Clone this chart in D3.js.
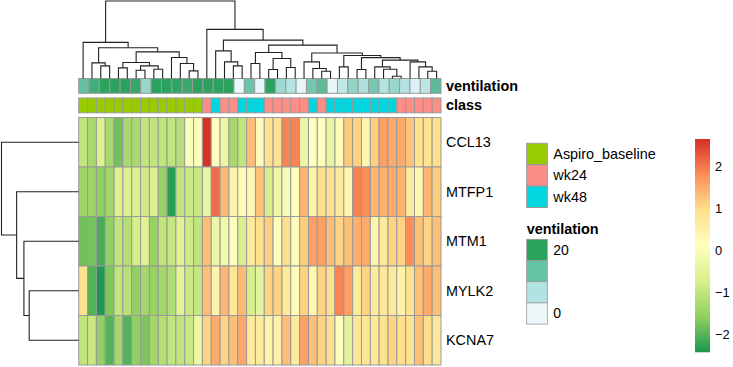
<!DOCTYPE html>
<html>
<head>
<meta charset="utf-8">
<script src="https://cdn.jsdelivr.net/npm/d3@7"></script>
<style>
  body { margin: 0; background: #fff; }
  text { font-family: "Liberation Sans", Arial, Helvetica, sans-serif; fill: #000; }
</style>
</head>
<body>
<div id="chart"></div>
<script>
// genes (rows, in dendrogram order)
const genes = ['CCL13', 'MTFP1', 'MTM1', 'MYLK2', 'KCNA7'];

// scaled expression, one value per sample (41 columns, dendrogram order)
const ccl13 = [-1.0, -1.3, -0.65, -1.3, -1.8, -1.3, -1.3, -1.0, -1.0, -1.0, -1.0, -1.15, 0.05, 0.05, 2.65, 0.15, -0.3, -1.3, -1.0, 1.3,
  0.2, 0.9, 0.85, 1.9, 1.9, -0.3, 0.1, 0.15, -0.4, 0.2, 1.2, 1.1, 0.4, 1.15, 1.6, 1.5, 1.5, 1.25, 0.9, 0.9, 0.95];
const mtfp1 = [-1.4, -1.4, -1.55, -1.35, -0.65, -0.65, -0.65, -0.85, -0.65, -1.5, -2.3, -1.0, -0.9, -0.9, -0.35, 2.1, 1.35, 0.45, 0.2, 0.3,
  1.25, -0.75, -0.3, -0.1, 0.15, 1.4, 0.45, 0.95, 0.9, 0.7, 0.35, 1.9, 1.8, 1.4, 1.45, 1.5, 1.4, 0.7, 0.35, 1.4, 1.15];
const mtm1 = [-1.8, -1.75, -2.1, -1.55, -1.0, -1.15, -0.75, -0.6, -1.5, -1.0, -0.95, -0.55, -0.85, -1.0, 1.3, -0.3, -0.2, 0.15, -0.7, 0.7,
  0.95, 1.15, 0.1, 0.95, 0.2, 1.15, 1.6, 1.6, 1.3, 1.1, 1.3, 1.45, 1.5, 0.45, 0.7, 1.1, 1.1, 1.8, 1.3, 1.1, 1.3];
const mylk2 = [0.9, -2.0, -2.4, -1.7, -1.0, -1.1, -1.55, -1.35, -1.5, -1.35, -1.2, -0.5, -0.9, -0.95, 1.3, 0.45, 1.4, 0.8, 1.35, -0.7,
  -0.45, 1.1, 1.1, 0.7, 0.2, 1.1, 0.35, 1.1, 0.95, 1.9, 1.6, 0.7, 1.1, 0.7, 0.75, 0.7, 0.45, 0.9, 1.3, 1.5, 1.3];
const kcna7 = [-1.0, -0.9, -1.55, -2.0, -1.35, -2.0, -1.55, -1.7, -1.35, -1.15, -1.0, -1.0, -0.9, -0.3, 1.1, 1.5, 1.1, 1.3, 1.55, 0.7,
  0.7, 0.45, 0.5, 1.3, 0.7, 1.6, 1.3, 1.1, 0.95, 0.15, -0.45, 0.75, 0.75, 0.75, 0.9, 1.1, 0.95, 0.9, 1.3, 0.95, 0.75];
const expression = [ccl13, mtfp1, mtm1, mylk2, kcna7];

// class annotation per column
const B = 'Aspiro_baseline', W24 = 'wk24', W48 = 'wk48';
const sampleClass = [B, B, B, B, B, B, B, B, B, B, B, B, B, B, W24, W48, W24, W24, W48, W48,
  W48, W24, W24, W24, W24, W24, W48, W24, W48, W48, W48, W48, W48, W48, W48, W48, W24, W24, W24, W24, W24];

// ventilation annotation track (as drawn)
const ventilation = [13.5, 17.5, 20, 20, 20, 19, 9, 20, 20, 19.5, 18.5, 20, 20, 20, 20, 0, 13, 0.5, 20, 8.5,
  6.5, 0.5, 12, 14.5, 0.5, 5, 9.5, 7, 12, 6.7, 9, 6.7, 2, 5.5, 14.5];

const classNames = [B, W24, W48];
const classColors = ['#99cc00', '#fd8e87', '#00d6e0'];
const ventColors = ['#edf8fb', '#b2e2e2', '#66c2a4', '#2ca25f'];
const ventDomain = [0, 6.67, 13.33, 20];
const ventTicks = ['20', '0'];
const palette = ['#1a9850', '#91cf60', '#d9ef8b', '#ffffbf', '#fee08b', '#fc8d59', '#d73027'];
const colorRange = [-2.41, 2.65];
const colorTicks = [2, 1, 0, -1, -2];

// dendrograms: [height, left, right], leaves are column / row indices
const colTree = [77.3,
  [36, 0, [30.6, [15.6, 1, [12.6, 2, 3]],
    [26.6, [16, [10.6, 4, 5], [12.6, [8.3, 6, 7], [9.3, 8, 9]]], [21, 10, [15, 11, [7.6, 12, 13]]]]]],
  [49, 14, [38.3,
    [27.6, 15, [16.6, 16, [12.6, 17, 18]]],
    [33.3,
      [26, [15, 19, 20], [20, [9, 21, 22], [11, 23, 24]]],
      [25.5,
        [16.6, 25, [10, 26, [7.3, 27, 28]]],
        [23, [11.6, 29, 30], [20.8, [9, 31, 32],
          [18.3, [11.6, 33, [9.3, 34, [2.3, 35, 36]]], [16.6, 37, [11.6, 38, [7.3, 39, 40]]]]]]]]]]
];
const rowTree = [77.5, 0, [62.3, 1, [55, 2, [49.7, 3, 4]]]];

// layout
const width = 733, height = 367;
const heat = { left: 78.7, right: 441, top: 117.5, bottom: 365 };
const ventBand = { top: 78.5, bottom: 93.3 };
const classBand = { top: 98, bottom: 112.8 };
const border = '#999999';
const labelSize = '14.4px';

const svg = d3.select('#chart')
  .append('svg')
  .attr('width', width)
  .attr('height', height);

svg.append('rect').attr('width', width).attr('height', height).attr('fill', '#fff');

const xScale = d3.scaleBand().domain(d3.range(ccl13.length)).range([heat.left, heat.right]);
const yScale = d3.scaleBand().domain(genes).range([heat.top, heat.bottom]);
const xVent = d3.scaleBand().domain(d3.range(ventilation.length)).range([heat.left, heat.right]);

const color = d3.scaleLinear()
  .domain(palette.map((c, i) => colorRange[0] + i * (colorRange[1] - colorRange[0]) / (palette.length - 1)))
  .range(palette);
const ventColor = d3.scaleLinear().domain(ventDomain).range(ventColors);
const classColor = d3.scaleOrdinal().domain(classNames).range(classColors);

// heatmap cells
const cells = genes.flatMap((g, r) => expression[r].map((v, i) => ({ g, i, v })));
svg.append('g')
  .selectAll('rect')
  .data(cells)
  .join('rect')
  .attr('x', d => xScale(d.i))
  .attr('y', d => yScale(d.g))
  .attr('width', xScale.bandwidth())
  .attr('height', yScale.bandwidth())
  .attr('fill', d => color(d.v))
  .attr('stroke', border)
  .attr('stroke-width', 1);

// annotation tracks
svg.append('g')
  .selectAll('rect')
  .data(ventilation)
  .join('rect')
  .attr('x', (d, i) => xVent(i))
  .attr('y', ventBand.top)
  .attr('width', xVent.bandwidth())
  .attr('height', ventBand.bottom - ventBand.top)
  .attr('fill', d => ventColor(d))
  .attr('stroke', border);

svg.append('g')
  .selectAll('rect')
  .data(sampleClass)
  .join('rect')
  .attr('x', (d, i) => xScale(i))
  .attr('y', classBand.top)
  .attr('width', xScale.bandwidth())
  .attr('height', classBand.bottom - classBand.top)
  .attr('fill', d => classColor(d))
  .attr('stroke', border);

svg.append('text')
  .attr('x', heat.right + 5)
  .attr('y', (ventBand.top + ventBand.bottom) / 2)
  .attr('dy', '0.35em')
  .style('font-size', labelSize)
  .style('font-weight', 'bold')
  .text('ventilation');

svg.append('text')
  .attr('x', heat.right + 5)
  .attr('y', (classBand.top + classBand.bottom) / 2)
  .attr('dy', '0.35em')
  .style('font-size', labelSize)
  .style('font-weight', 'bold')
  .text('class');

// row labels
svg.append('g')
  .selectAll('text')
  .data(genes)
  .join('text')
  .attr('x', heat.right + 5)
  .attr('y', d => yScale(d) + yScale.bandwidth() / 2)
  .attr('dy', '0.35em')
  .style('font-size', labelSize)
  .text(d => d);

// dendrograms
function dendroPaths(tree, leafPos, hScale, vertical) {
  const segs = [];
  (function walk(n) {
    if (typeof n === 'number') return { p: leafPos(n), h: 0 };
    const a = walk(n[1]), b = walk(n[2]);
    segs.push([[a.p, a.h], [a.p, n[0]], [b.p, n[0]], [b.p, b.h]]);
    return { p: (a.p + b.p) / 2, h: n[0] };
  })(tree);
  const line = d3.line()
    .x(d => vertical ? d[0] : hScale(d[1]))
    .y(d => vertical ? hScale(d[1]) : d[0]);
  return segs.map(line);
}

const colH = d3.scaleLinear().domain([0, colTree[0]]).range([ventBand.top, 1]);
svg.append('g')
  .selectAll('path')
  .data(dendroPaths(colTree, i => xScale(i) + xScale.bandwidth() / 2, colH, true))
  .join('path')
  .attr('d', d => d)
  .attr('fill', 'none')
  .attr('stroke', '#222')
  .attr('stroke-width', 1.1);

const rowH = d3.scaleLinear().domain([0, rowTree[0]]).range([heat.left, 1.5]);
svg.append('g')
  .selectAll('path')
  .data(dendroPaths(rowTree, i => yScale(genes[i]) + yScale.bandwidth() / 2, rowH, false))
  .join('path')
  .attr('d', d => d)
  .attr('fill', 'none')
  .attr('stroke', '#222')
  .attr('stroke-width', 1.1);

// class legend
const legX = 526.7, boxW = 20.6, boxH = 21.4;
const classLeg = svg.append('g').attr('transform', `translate(${legX},143.3)`);
classLeg.selectAll('rect')
  .data(classNames)
  .join('rect')
  .attr('y', (d, i) => i * boxH)
  .attr('width', boxW)
  .attr('height', boxH)
  .attr('fill', d => classColor(d))
  .attr('stroke', border);
classLeg.selectAll('text')
  .data(classNames)
  .join('text')
  .attr('x', boxW + 6)
  .attr('y', (d, i) => i * boxH + boxH / 2)
  .attr('dy', '0.35em')
  .style('font-size', labelSize)
  .text(d => d);

// ventilation legend
svg.append('text')
  .attr('x', legX)
  .attr('y', 233.5)
  .style('font-size', labelSize)
  .style('font-weight', 'bold')
  .text('ventilation');

const ventLeg = svg.append('g').attr('transform', `translate(${legX},239.3)`);
const ventLegColors = ventColors.slice().reverse();
ventLeg.selectAll('rect')
  .data(ventLegColors)
  .join('rect')
  .attr('y', (d, i) => i * 21.2)
  .attr('width', boxW)
  .attr('height', 21.2)
  .attr('fill', d => d)
  .attr('stroke', border)
  .attr('stroke-width', 0.8);
ventLeg.selectAll('text')
  .data(ventTicks)
  .join('text')
  .attr('x', boxW + 6)
  .attr('y', (d, i) => i === 0 ? 10.6 : 3 * 21.2 + 10.6)
  .attr('dy', '0.35em')
  .style('font-size', '14px')
  .text(d => d);

// colour bar
const bar = { x: 695, w: 15, top: 139, bottom: 352.3 };
const barY = d3.scaleLinear().domain(colorRange).range([bar.bottom, bar.top]);
const grad = svg.append('defs').append('linearGradient')
  .attr('id', 'cbar')
  .attr('x1', 0).attr('x2', 0).attr('y1', 1).attr('y2', 0);
grad.selectAll('stop')
  .data(palette)
  .join('stop')
  .attr('offset', (d, i) => i / (palette.length - 1))
  .attr('stop-color', d => d);
svg.append('rect')
  .attr('x', bar.x)
  .attr('y', bar.top)
  .attr('width', bar.w)
  .attr('height', bar.bottom - bar.top)
  .attr('fill', 'url(#cbar)');
svg.append('g')
  .selectAll('text')
  .data(colorTicks)
  .join('text')
  .attr('x', bar.x + bar.w + 5)
  .attr('y', d => barY(d))
  .attr('dy', '0.35em')
  .style('font-size', '12.8px')
  .text(d => d < 0 ? '\u2212' + Math.abs(d) : String(d));
</script>
</body>
</html>
